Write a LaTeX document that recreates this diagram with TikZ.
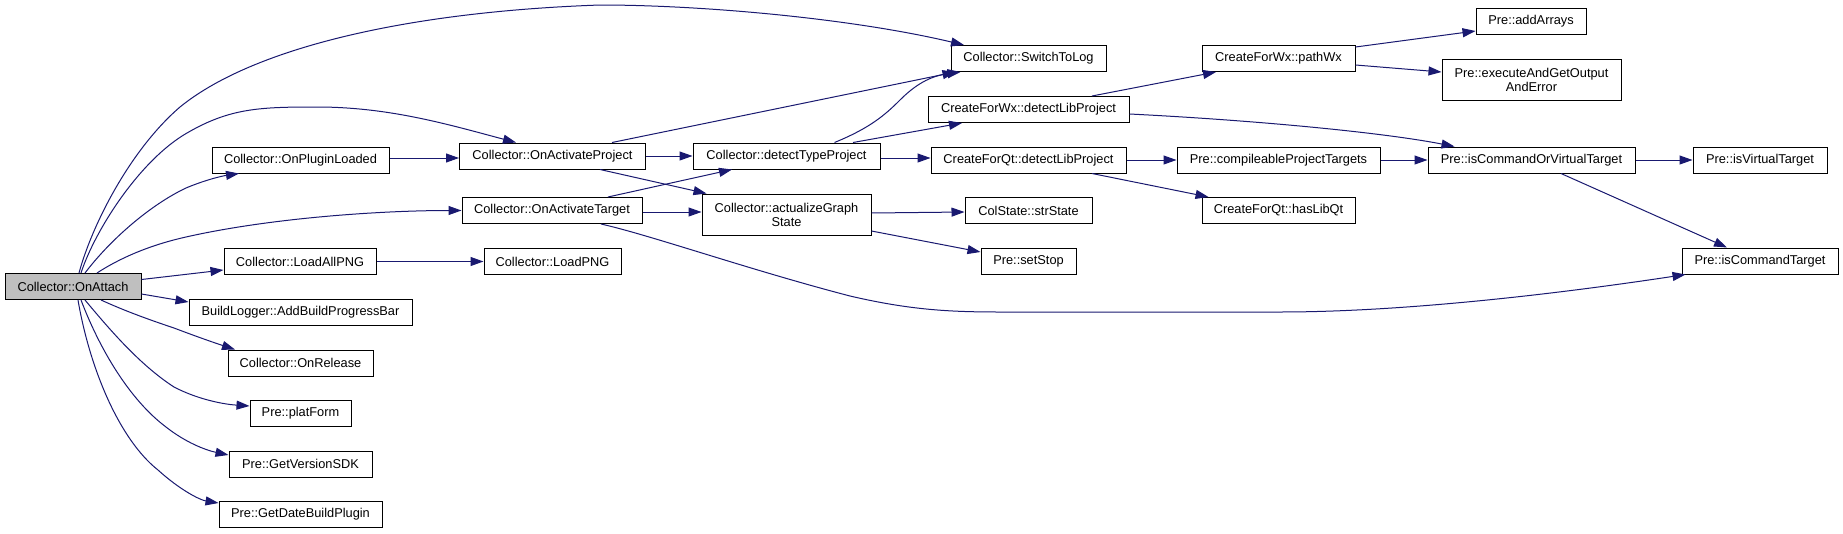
\documentclass[tikz,border=0pt]{standalone}
\usepackage{fontspec}
\setmainfont{Liberation Sans}
\usetikzlibrary{arrows.meta}
\definecolor{mblue}{RGB}{25,25,112}
\definecolor{nodegray}{RGB}{191,191,191}
\begin{document}
\begin{tikzpicture}[x=1pt,y=-1pt,
  nb/.style={draw=black, fill=white, line width=1pt, inner sep=0pt, minimum height=26pt, align=center, font=\fontsize{12.8pt}{14pt}\selectfont},
  tall/.style={minimum height=41pt},
  edge/.style={draw=mblue, line width=1pt, -{Triangle[length=13pt,width=9pt]}, line join=round}]
\fill[white] (0,0) rectangle (1843,533);
\useasboundingbox (0,0) rectangle (1843,533);
% nodes
\node[nb, fill=nodegray, minimum width=136pt] (oa) at (73,286.5) {Collector::OnAttach};
\node[nb, minimum width=177pt] (opl) at (300.5,160) {Collector::OnPluginLoaded};
\node[nb, minimum width=186pt] (oap) at (552.5,156) {Collector::OnActivateProject};
\node[nb, minimum width=180pt] (oat) at (552,210.5) {Collector::OnActivateTarget};
\node[nb, minimum width=152pt] (lap) at (300,261.5) {Collector::LoadAllPNG};
\node[nb, minimum width=137pt] (lpng) at (552.5,261.5) {Collector::LoadPNG};
\node[nb, minimum width=223pt] (abpb) at (300.5,312) {BuildLogger::AddBuildProgressBar};
\node[nb, minimum width=145pt] (orel) at (300.5,363) {Collector::OnRelease};
\node[nb, minimum width=101pt] (plat) at (300.5,413.5) {Pre::platForm};
\node[nb, minimum width=143pt] (gvs) at (300.5,464) {Pre::GetVersionSDK};
\node[nb, minimum width=163pt] (gdbp) at (300.5,514.5) {Pre::GetDateBuildPlugin};
\node[nb, minimum width=155pt] (stl) at (1028.5,58.5) {Collector::SwitchToLog};
\node[nb, minimum width=201pt] (cfwx) at (1028.5,109.5) {CreateForWx::detectLibProject};
\node[nb, minimum width=187pt] (dtp) at (786.5,156) {Collector::detectTypeProject};
\node[nb, minimum width=195pt] (cfqt) at (1028.5,160) {CreateForQt::detectLibProject};
\node[nb, tall, minimum width=169pt] (ags) at (786.5,214.5) {Collector::actualizeGraph\\State};
\node[nb, minimum width=127pt] (css) at (1028.5,210.5) {ColState::strState};
\node[nb, minimum width=95pt] (ss) at (1028.5,261) {Pre::setStop};
\node[nb, minimum width=203pt] (cpt) at (1278.5,160) {Pre::compileableProjectTargets};
\node[nb, minimum width=153pt] (pwx) at (1278.5,58.5) {CreateForWx::pathWx};
\node[nb, minimum width=153pt] (hlq) at (1278.5,210.5) {CreateForQt::hasLibQt};
\node[nb, minimum width=110pt] (aa) at (1531,21) {Pre::addArrays};
\node[nb, tall, minimum width=179pt] (ex) at (1531.5,80) {Pre::executeAndGetOutput\\AndError};
\node[nb, minimum width=207pt] (icovt) at (1531.5,160) {Pre::isCommandOrVirtualTarget};
\node[nb, minimum width=134pt] (ivt) at (1760,160) {Pre::isVirtualTarget};
\node[nb, minimum width=156pt] (ict) at (1760,261) {Pre::isCommandTarget};
% edges from OnAttach
\draw[edge] ([xshift=6pt]oa.north) .. controls (92,225) and (130,150) .. (180,107) .. controls (250,50) and (400,12) .. (600,5) .. controls (700,5) and (850,18) .. ([xshift=-64.5pt]stl.north);
\draw[edge] ([xshift=8pt]oa.north) .. controls (95,230) and (140,160) .. (187,133) .. controls (230,108) and (260,107) .. (317,107) .. controls (390,107) and (450,125) .. ([xshift=-36.5pt]oap.north);
\draw[edge] ([xshift=12pt]oa.north) .. controls (110,240) and (150,205) .. (186,188) .. controls (205,180) and (222,176) .. ([xshift=-61.5pt]opl.south);
\draw[edge] ([xshift=24pt]oa.north) .. controls (120,258) and (150,245) .. (186,237) .. controls (270,218) and (380,210.5) .. (oat.west);
\draw[edge] ([yshift=7pt]oa.east) -- ([yshift=-8.5pt]lap.west);
\draw[edge] ([yshift=-7.5pt]oa.east) -- ([yshift=10pt]abpb.west);
\draw[edge] ([xshift=28pt]oa.south) .. controls (125,311) and (150,320) .. (174,328) .. controls (195,336) and (215,343) .. ([xshift=-65.5pt]orel.north);
\draw[edge] ([xshift=12pt]oa.south) .. controls (110,330) and (140,365) .. (174,387) .. controls (195,398) and (220,404) .. ([yshift=7.5pt]plat.west);
\draw[edge] ([xshift=8pt]oa.south) .. controls (100,350) and (130,400) .. (166,427) .. controls (185,442) and (205,450) .. ([yshift=9pt]gvs.west);
\draw[edge] ([xshift=5pt]oa.south) .. controls (90,370) and (120,440) .. (158,470) .. controls (180,490) and (200,500) .. ([yshift=11.5pt]gdbp.west);
% other edges
\draw[edge] ([yshift=2pt]opl.east) -- ([yshift=-2pt]oap.west);
\draw[edge] (lap) -- (lpng);
\draw[edge] ([xshift=59.5pt]oap.north) -- ([xshift=-73pt]stl.south);
\draw[edge] (oap) -- (dtp);
\draw[edge] ([xshift=47.5pt]oap.south) -- ([xshift=-80pt]ags.north);
\draw[edge] ([xshift=56pt]oat.north) -- ([xshift=-54.5pt]dtp.south);
\draw[edge] ([yshift=-1.5pt]oat.east) -- ([yshift=2.5pt]ags.west);
\draw[edge] ([xshift=49pt]oat.south) .. controls (650,235) and (750,270) .. (850,296) .. controls (910,310) and (950,312) .. (1000,312) -- (1280,312) .. controls (1400,312) and (1550,295) .. ([xshift=4pt]ict.south west);
\draw[edge] ([xshift=48pt]dtp.north) .. controls (870,128) and (885,115) .. (900,100) .. controls (915,85) and (930,76) .. ([xshift=-68pt]stl.south);
\draw[edge] ([xshift=66.5pt]dtp.north) -- ([xshift=-66.5pt]cfwx.south);
\draw[edge] ([yshift=-2pt]dtp.east) -- ([yshift=2pt]cfqt.west);
\draw[edge] ([xshift=63.5pt]cfwx.north) -- ([xshift=-62.5pt]pwx.south);
\draw[edge] ([yshift=-4.5pt]cfwx.east) .. controls (1250,120) and (1380,132) .. ([xshift=-77pt]icovt.north);
\draw[edge] (cfqt) -- (cpt);
\draw[edge] ([xshift=63.5pt]cfqt.south) -- ([xshift=-70pt]hlq.north);
\draw[edge] (cpt) -- (icovt);
\draw[edge] (icovt) -- (ivt);
\draw[edge] ([xshift=29.5pt]icovt.south) -- ([xshift=-33pt]ict.north);
\draw[edge] ([yshift=11.5pt]pwx.east) -- ([yshift=-10pt]aa.west);
\draw[edge] ([yshift=-6.5pt]pwx.east) -- ([yshift=8pt]ex.west);
\draw[edge] ([yshift=1.5pt]ags.east) -- ([yshift=-1.5pt]css.west);
\draw[edge] ([yshift=-16.5pt]ags.east) -- ([yshift=9pt]ss.west);
\end{tikzpicture}
\end{document}
